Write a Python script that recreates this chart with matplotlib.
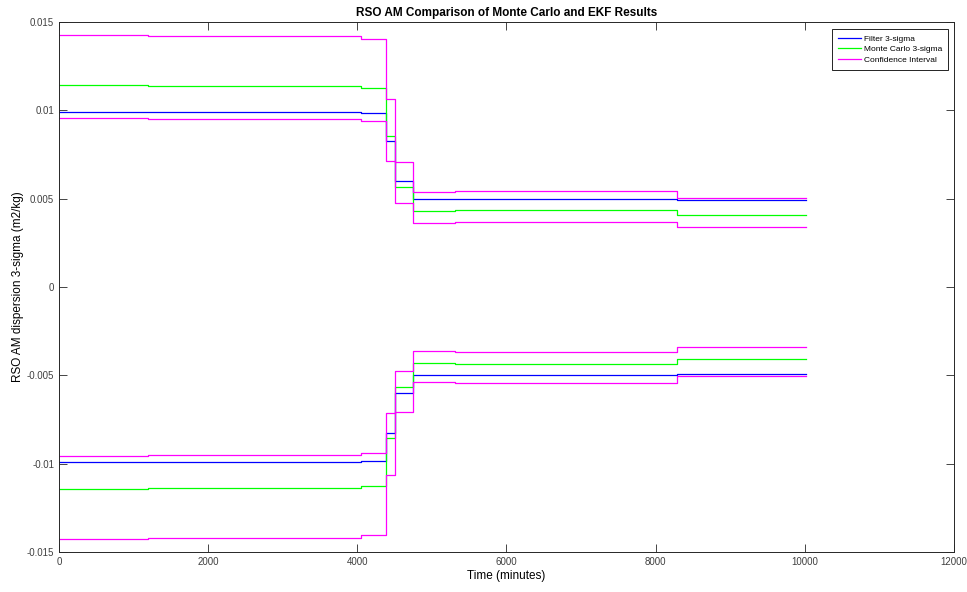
import matplotlib
matplotlib.use('Agg')
import matplotlib.pyplot as plt

plt.rcParams['font.family'] = ['Liberation Sans', 'DejaVu Sans']

# step times (minutes) and the 3-sigma values held from each time on
step_times = [0, 1190, 4050, 4387, 4503, 4744, 5305, 8290, 10020]
filter_sigma = [0.00989, 0.00988, 0.00984, 0.00829, 0.00599, 0.00500, 0.00497, 0.00491]
mc_sigma = [0.01144, 0.01140, 0.01125, 0.00855, 0.00568, 0.00430, 0.00434, 0.00406]
ci_upper = [0.01427, 0.01420, 0.01404, 0.01065, 0.00706, 0.00536, 0.00542, 0.00506]
ci_lower = [0.00957, 0.00951, 0.00942, 0.00714, 0.00475, 0.00361, 0.00366, 0.00339]

x_ticks = [0, 2000, 4000, 6000, 8000, 10000, 12000]
y_ticks = [-0.015, -0.01, -0.005, 0, 0.005, 0.01, 0.015]
y_ticklabels = ['-0.015', '-0.01', '-0.005', '0', '0.005', '0.01', '0.015']


def held(vals):
    # repeat last value so the final step reaches the end time
    return vals + [vals[-1]]


fig = plt.figure(figsize=(9.67, 5.92), dpi=100)
ax = fig.add_axes([0.061, 0.0676, 0.9255, 0.8953])

lw = 0.9
for sign in (1, -1):
    # thin black filter trace underneath, blue on top
    ax.step(step_times, [sign * v for v in held(filter_sigma)], where='post', color='black', lw=0.6)
    ax.step(step_times, [sign * v for v in held(filter_sigma)], where='post', color='#0000ff', lw=lw,
            label='Filter 3-sigma' if sign == 1 else None)
    ax.step(step_times, [sign * v for v in held(mc_sigma)], where='post', color='#00ff00', lw=lw,
            label='Monte Carlo 3-sigma' if sign == 1 else None)
    ax.step(step_times, [sign * v for v in held(ci_upper)], where='post', color='#ff00ff', lw=lw,
            label='Confidence Interval' if sign == 1 else None)
    ax.step(step_times, [sign * v for v in held(ci_lower)], where='post', color='#ff00ff', lw=lw)

ax.set_xlim(0, 12000)
ax.set_ylim(-0.015, 0.015)
ax.set_xticks(x_ticks)
ax.set_yticks(y_ticks)
ax.set_yticklabels(y_ticklabels)

ax.tick_params(direction='in', length=6, width=0.6, top=True, right=True,
               labelsize=7, labelcolor='#404040', colors='#262626')
for sp in ax.spines.values():
    sp.set_linewidth(0.7)
    sp.set_color('#262626')

ax.set_title('RSO AM Comparison of Monte Carlo and EKF Results', fontsize=8.5, fontweight='bold', pad=4)
ax.set_xlabel('Time (minutes)', fontsize=8.5, labelpad=2)
ax.set_ylabel('RSO AM dispersion 3-sigma (m2/kg)', fontsize=8.5, labelpad=2)

leg = ax.legend(loc='upper right', fontsize=6, fancybox=False, framealpha=1,
                edgecolor='black', handlelength=2.7, handletextpad=0.4,
                borderpad=0.7, labelspacing=0.35, borderaxespad=0,
                bbox_to_anchor=(0.9933, 0.987))
leg.get_frame().set_linewidth(0.6)

fig.savefig('out.png', dpi=100)
